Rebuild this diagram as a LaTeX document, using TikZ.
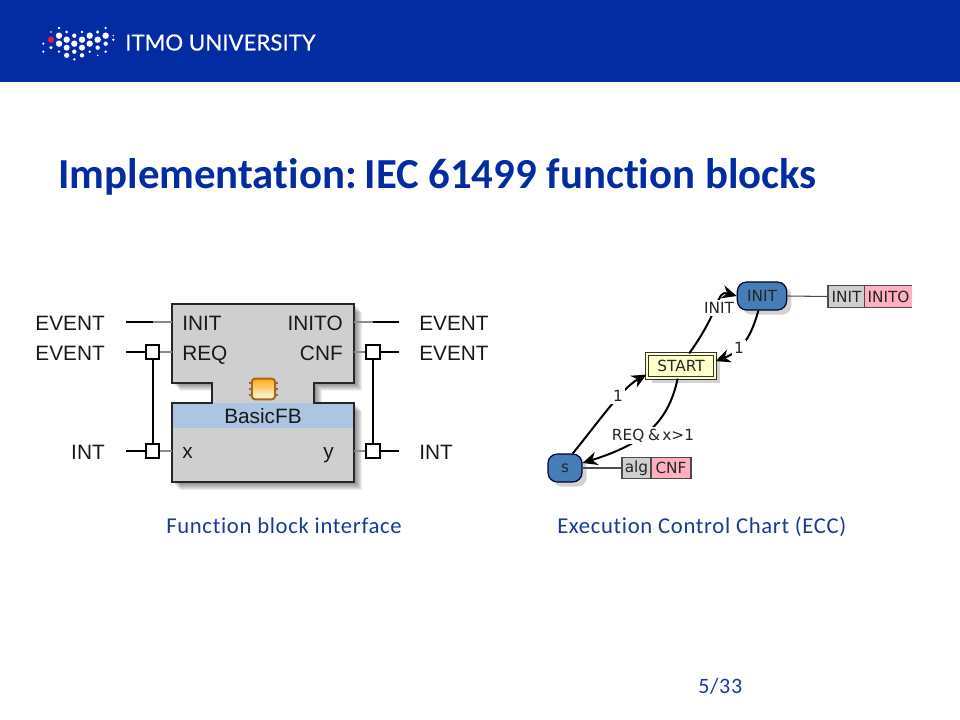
\documentclass[tikz,border=0pt]{standalone}
\usepackage{fontspec}
\setmainfont[Ligatures={NoCommon}]{Carlito}
\newfontfamily\arialfont{Liberation Sans}
\newfontfamily\eccfont{DejaVu Sans}
\newfontfamily\capfont[LetterSpace=3,Ligatures={NoCommon}]{Carlito}
\newfontfamily\logofont[FakeBold=0.35]{Lato}
\usetikzlibrary{arrows.meta,shadows}
\definecolor{itmoblue}{RGB}{3,44,163}
\definecolor{capblue}{RGB}{26,58,154}
\definecolor{logored}{RGB}{235,20,80}
\definecolor{fbgrey}{RGB}{207,207,207}
\definecolor{fbband}{RGB}{172,197,226}
\definecolor{statecol}{RGB}{70,125,182}
\definecolor{actpink}{RGB}{255,176,192}
\definecolor{startyellow}{RGB}{255,255,204}
\tikzset{
  fbtext/.style={font=\arialfont\fontsize{15.6}{18}\selectfont,text=black!90,inner sep=0pt},
  ecctext/.style={font=\eccfont\fontsize{11.5}{13}\selectfont,text=black!85,inner sep=1.5pt},
  wire/.style={line width=1.5pt,black},
  stub/.style={line width=1.5pt,black!45},
  portbox/.style={draw=black,fill=white,line width=1.5pt,minimum size=10pt,inner sep=0pt},
  statebox/.style={ecctext,draw=black!80!blue,fill=statecol,line width=0.9pt,rounded corners=7pt,minimum height=21pt,
    drop shadow={shadow xshift=3.5pt,shadow yshift=-3.5pt,fill=black!22,opacity=0.8}},
  actbox/.style={ecctext,draw=black!70,line width=0.9pt,minimum height=16pt,inner sep=0pt},
  trans/.style={line width=1.5pt,black,-{Stealth[length=11pt,width=10pt,inset=3.5pt]}},
  actline/.style={line width=0.8pt,black!70},
}
\begin{document}
\begin{tikzpicture}[x=0.75pt,y=0.75pt,yscale=-1,xscale=1]
\useasboundingbox (0,0) rectangle (960,720);

%Shape: Header
\fill [itmoblue] (0,0) rectangle (960,82.5);
%Shape: Logo dots
\foreach \dx/\dy/\dr in {72/24/1.3,212/24/1.3,48/36/0.9,95/36/1.5,141/36/1.3,188/36/1.8,
  72/47/3.2,118/47/2.2,164/47/3.2,212/47/3.2,235/47/0.9,
  95/59/3.2,141/59/3.2,188/59/3.2,235/59/1.3,
  25/71/1.2,72/71/3.2,118/71/3.2,164/71/3.2,212/71/2.2,
  48/83/1.8,95/83/3.0,141/83/3.0,188/83/2.2,
  25/95/1.2,72/95/1.3,118/95/2.2,164/95/1.3,212/95/1.3,
  95/106/2.6,141/106/2.2,188/106/0.9,118/118/1.3}
  \fill [white] ({35+\dx/3},{20+\dy/3}) circle [radius=\dr];
\fill [logored] (51,39.7) circle [radius=3.2];
% Text Node
\node (logotext) [anchor=base west,inner sep=0pt,text=white,font=\logofont\fontsize{16.7}{18}\selectfont] at (125,50.5) {ITMO UNIVERSITY};
% Text Node
\node (title) [anchor=base west,inner sep=0pt,text=itmoblue,font=\fontsize{32.1}{36}\bfseries\selectfont] at (58,188.5) {Implementation:\hspace{-0.12em} IEC 61499 function blocks};

%Shape: Block shadow
\foreach \s in {2,3,4,5,6,7,8}
  \fill [black,opacity=0.07,shift={(\s,\s)}] (172,304) -- (354,304) -- (354,382.5) -- (314,382.5) -- (314,403) -- (354,403) -- (354,482) -- (172,482) -- (172,403) -- (212,403) -- (212,382.5) -- (172,382.5) -- cycle;
%Shape: Block
\fill [fbgrey] (172,304) -- (354,304) -- (354,382.5) -- (314,382.5) -- (314,403) -- (354,403) -- (354,482) -- (172,482) -- (172,403) -- (212,403) -- (212,382.5) -- (172,382.5) -- cycle;
\fill [fbband] (172,403) rectangle (354,428);
\draw [line width=1.5pt,black!85] (172,304) -- (354,304) -- (354,382.5) -- (314,382.5) -- (314,403) -- (354,403) -- (354,482) -- (172,482) -- (172,403) -- (212,403) -- (212,382.5) -- (172,382.5) -- cycle;

%Shape: Chip
\foreach \py in {383,389,395} {
  \draw [black!55,line width=0.9pt] (248.5,\py) -- (278,\py);
}
\node (chip) [draw={rgb, 255:red, 170; green, 100; blue, 30},line width=1.5pt,rounded corners=2.5pt,minimum width=17.5pt,minimum height=15.5pt,inner sep=0pt,top color={rgb, 255:red, 255; green, 170; blue, 20},middle color={rgb, 255:red, 255; green, 225; blue, 120},bottom color={rgb, 255:red, 255; green, 255; blue, 240}] at (263.5,389) {};

% Port coordinates
\coordinate (freeInit) at (126,322);
\coordinate (freeReq) at (126,352);
\coordinate (freeX) at (126,451);
\coordinate (midInit) at (153,322);
\coordinate (edgeInit) at (172,322);
\coordinate (edgeReq) at (172,352);
\coordinate (edgeX) at (172,451);
\coordinate (freeInito) at (399,322);
\coordinate (freeCnf) at (399,352);
\coordinate (freeY) at (399,451);
\coordinate (midInito) at (373,322);
\coordinate (edgeInito) at (354,322);
\coordinate (edgeCnf) at (354,352);
\coordinate (edgeY) at (354,451);

\node (reqport) [portbox] at (152.5,352) {};
\node (xport) [portbox] at (152.5,451) {};
\node (cnfport) [portbox] at (373,352) {};
\node (yport) [portbox] at (373,451) {};

\draw [wire] (freeInit) -- (midInit);
\draw [stub] (midInit) -- (edgeInit);
\draw [wire] (freeReq) -- (reqport);
\draw [stub] (reqport) -- (edgeReq);
\draw [wire] (freeX) -- (xport);
\draw [stub] (xport) -- (edgeX);
\draw [wire] (reqport) -- (xport);
\draw [wire] (freeInito) -- (midInito);
\draw [stub] (midInito) -- (edgeInito);
\draw [wire] (freeCnf) -- (cnfport);
\draw [stub] (cnfport) -- (edgeCnf);
\draw [wire] (freeY) -- (yport);
\draw [stub] (yport) -- (edgeY);
\draw [wire] (cnfport) -- (yport);

% Text Node
\node (typeinit) [fbtext,anchor=base east] at (105,330) {EVENT};
\node (typereq) [fbtext,anchor=base east] at (105,360) {EVENT};
\node (typex) [fbtext,anchor=base east] at (105,459) {INT};
\node (typeinito) [fbtext,anchor=base west] at (419,330) {EVENT};
\node (typecnf) [fbtext,anchor=base west] at (419,360) {EVENT};
\node (typey) [fbtext,anchor=base west] at (419,459) {INT};
\node (lblinit) [fbtext,anchor=base west] at (182,330) {INIT};
\node (lblreq) [fbtext,anchor=base west] at (182,360) {REQ};
\node (lblx) [fbtext,anchor=base west] at (182,458) {x};
\node (lblinito) [fbtext,anchor=base east] at (343,330) {INITO};
\node (lblcnf) [fbtext,anchor=base east] at (343,360) {CNF};
\node (lbly) [fbtext,anchor=base east] at (334,458) {y};
\node (lblfb) [fbtext,anchor=base] at (263,423) {BasicFB};

%Shape: ECC states
\node (stateinit) [statebox,minimum width=37pt] at (762,296) {INIT};
\node (states) [statebox,minimum width=25.5pt] at (565,468) {s};
\node (statestart) [ecctext,draw=black!80,fill=startyellow,double=startyellow,double distance=1.2pt,line width=0.8pt,minimum width=51pt,minimum height=18pt,inner sep=0pt,
  drop shadow={shadow xshift=3.5pt,shadow yshift=-3.5pt,fill=black!22,opacity=0.8}] at (681,366) {START};

%Shape: Actions
\node (actinit) [actbox,fill=fbgrey,minimum width=27.75pt] at (846.5,296.5) {INIT};
\node (actinito) [ecctext,fill=actpink,minimum width=35.25pt,minimum height=16pt,inner sep=0pt] at (888.5,296.5) {INITO};
\draw [actline] (actinito.north west) -- (actinito.north east);
\draw [actline] (actinito.south west) -- (actinito.south east);
\node (actalg) [actbox,fill=fbgrey,minimum width=21.75pt] at (636.5,468) {alg};
\node (actcnf) [actbox,fill=actpink,minimum width=30pt] at (671,468) {CNF};
\draw [actline] (stateinit.east) -- (actinit.west);
\draw [actline] (states.east) -- (actalg.west);

%Shape: Transitions
\draw [trans] (states.62) .. controls (600,420) and (622,388) .. (statestart.194);
\draw [trans] (statestart.57) .. controls (722,308) and (716,290) .. (stateinit.180);
\draw [trans] (stateinit.256) .. controls (753,330) and (745,350) .. (statestart.8);
\draw [trans] (statestart.255) .. controls (668,425) and (640,445) .. (states.16);

% Text Node
\node (cond1) [ecctext,fill=white] at (618,396) {1};
\node (condinit) [ecctext,fill=white] at (719,308) {INIT};
\node (cond2) [ecctext,fill=white] at (739,348) {1};
\node (condreq) [ecctext,fill=white] at (653,435.5) {REQ\hspace{0.25em}\&\hspace{0.15em}x>1};

% Text Node
\node (capfb) [anchor=base west,inner sep=0pt,text=capblue,font=\capfont\fontsize{17}{20}\selectfont] at (166,533) {Function block interface};
\node (capecc) [anchor=base west,inner sep=0pt,text=capblue,font=\capfont\fontsize{17}{20}\selectfont] at (557,533) {Execution Control Chart (ECC)};
\node (pagenum) [anchor=base west,inner sep=0pt,text=capblue,font=\capfont\fontsize{16.5}{20}\selectfont] at (698,693) {5/33};
\end{tikzpicture}
\end{document}
